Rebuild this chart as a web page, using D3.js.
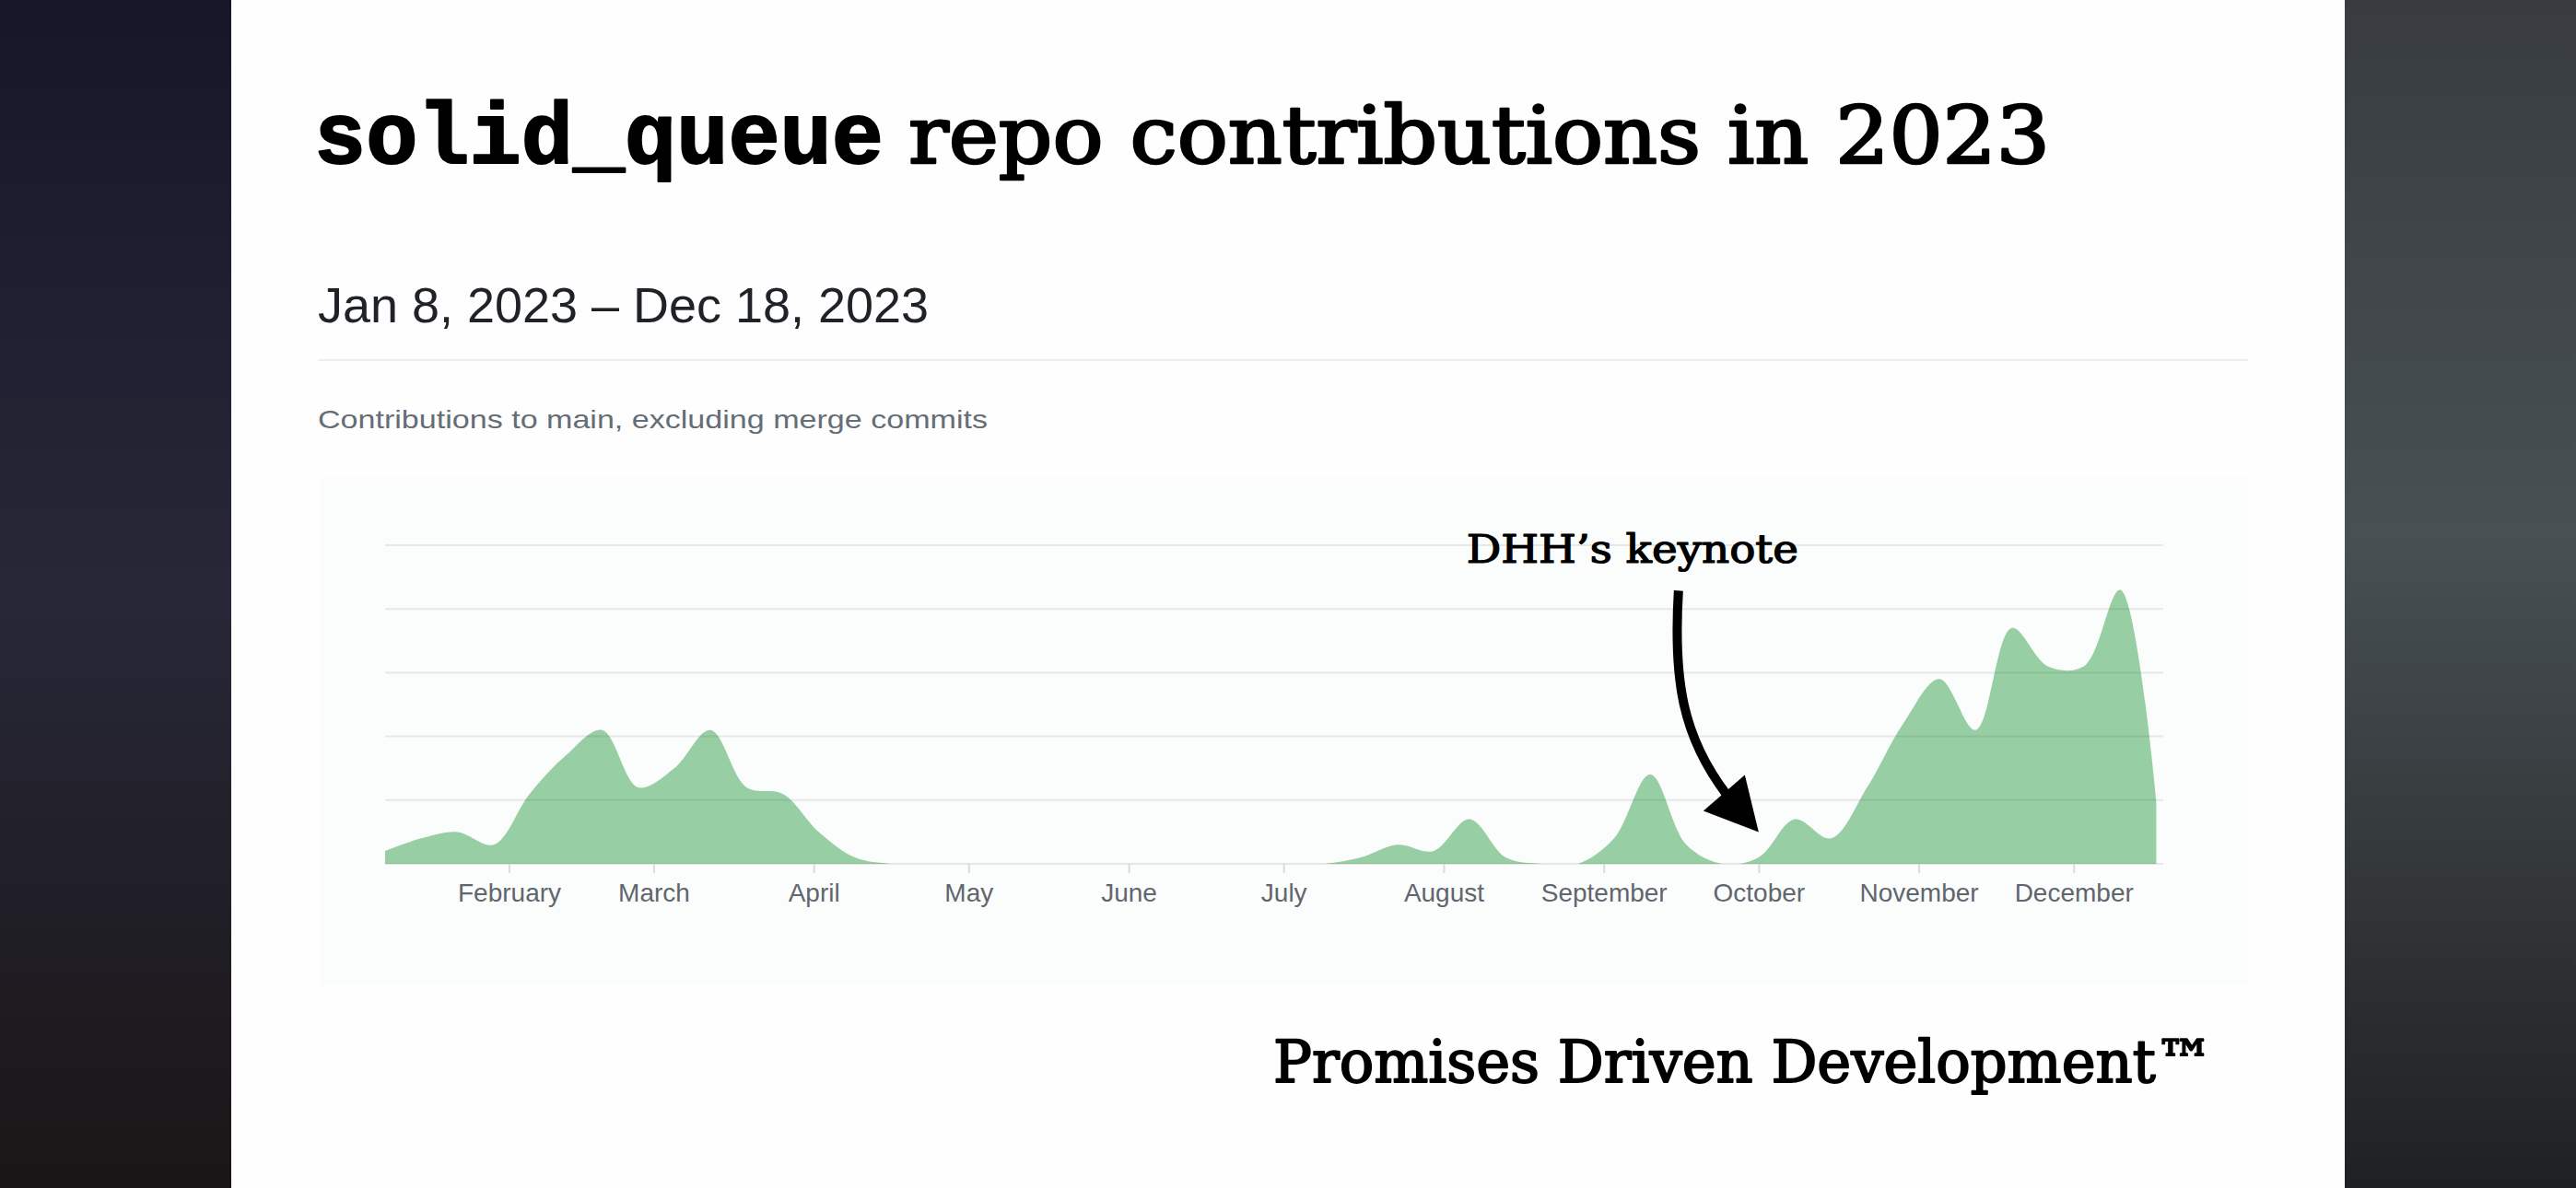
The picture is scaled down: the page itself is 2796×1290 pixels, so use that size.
<!doctype html>
<html>
<head>
  <meta charset="utf-8">
  <title>solid_queue contributions 2023</title>
  <script src="https://cdn.jsdelivr.net/npm/d3@7"></script>
  <style>
    body { margin: 0; background: #fff; }
    svg { display: block; }
    .slab { font-family: Rockwell, 'DejaVu Serif Condensed', 'DejaVu Serif', serif; font-weight: normal; fill: #000; stroke: #000; stroke-linejoin: round; }
    .mono { font-family: 'Courier New', 'Liberation Mono', monospace; font-weight: bold; fill: #000; stroke: #000; stroke-linejoin: round; }
    .sans { font-family: 'Liberation Sans', Arial, sans-serif; }
    .axis text { font-family: 'Liberation Sans', Arial, sans-serif; font-size: 28px; fill: #60666d; }
    .axis line { stroke: #d8dce0; stroke-width: 2; }
  </style>
</head>
<body>
<svg id="slide" width="2796" height="1290"></svg>
<script>
  // weekly commits to main, week starting on (Sunday)
  var weeks = [
    "2023-01-08","2023-01-15","2023-01-22","2023-01-29",
    "2023-02-05","2023-02-12","2023-02-19","2023-02-26",
    "2023-03-05","2023-03-12","2023-03-19","2023-03-26",
    "2023-04-02","2023-04-09","2023-04-16","2023-04-23","2023-04-30",
    "2023-05-07","2023-05-14","2023-05-21","2023-05-28",
    "2023-06-04","2023-06-11","2023-06-18","2023-06-25",
    "2023-07-02","2023-07-09","2023-07-16","2023-07-23","2023-07-30",
    "2023-08-06","2023-08-13","2023-08-20","2023-08-27",
    "2023-09-03","2023-09-10","2023-09-17","2023-09-24",
    "2023-10-01","2023-10-08","2023-10-15","2023-10-22","2023-10-29",
    "2023-11-05","2023-11-12","2023-11-19","2023-11-26",
    "2023-12-03","2023-12-10","2023-12-17"
  ];
  var commits = [
    2, 4, 5, 3, 11, 17, 21, 12, 15, 21, 12, 11, 5, 1,
    0, 0, 0, 0, 0, 0, 0, 0, 0, 0, 0, 0, 0,
    1, 3, 2, 7, 1, 0, 0, 4, 14, 3, 0, 1, 7, 4, 12, 22, 29, 21, 37, 31, 31, 43, 10
  ];
  var yTicks = [0, 10, 20, 30, 40, 50];
  var rangeStart = "2023-01-08", rangeEnd = "2023-12-18";

  var title = ["solid_queue", "repo contributions in 2023"];
  var dateRange = "Jan 8, 2023 \u2013 Dec 18, 2023";
  var caption = "Contributions to main, excluding merge commits";
  var note = { date: "2023-10-01", value: 5, text: "DHH\u2019s keynote" };
  var footer = "Promises Driven Development\u2122";

  var parse = d3.timeParse("%Y-%m-%d");
  var data = weeks.map(function(w, i) { return { date: parse(w), value: commits[i] }; });

  var svg = d3.select("#slide");
  var W = 2796, H = 1290;

  // dark side panels of the video frame
  var defs = svg.append("defs");
  var gl = defs.append("linearGradient").attr("id", "leftBg").attr("x1", 0).attr("y1", 0).attr("x2", 0).attr("y2", 1);
  gl.append("stop").attr("offset", "0%").attr("stop-color", "#151729");
  gl.append("stop").attr("offset", "50%").attr("stop-color", "#272737");
  gl.append("stop").attr("offset", "100%").attr("stop-color", "#1a1617");
  var gr = defs.append("linearGradient").attr("id", "rightBg").attr("x1", 0).attr("y1", 0).attr("x2", 0).attr("y2", 1);
  gr.append("stop").attr("offset", "0%").attr("stop-color", "#383c40");
  gr.append("stop").attr("offset", "45%").attr("stop-color", "#485053");
  gr.append("stop").attr("offset", "100%").attr("stop-color", "#1f2023");

  svg.append("rect").attr("x", 0).attr("y", 0).attr("width", 251).attr("height", H).attr("fill", "url(#leftBg)");
  svg.append("rect").attr("x", 2545).attr("y", 0).attr("width", W - 2545).attr("height", H).attr("fill", "url(#rightBg)");
  svg.append("rect").attr("x", 251).attr("y", 0).attr("width", 2545 - 251).attr("height", H).attr("fill", "#fefefe");

  // title
  svg.append("text").attr("class", "mono").attr("x", 341).attr("y", 177)
    .attr("font-size", 94).attr("stroke-width", 2)
    .attr("textLength", 618).attr("lengthAdjust", "spacingAndGlyphs")
    .text(title[0]);
  svg.append("text").attr("class", "slab").attr("x", 986).attr("y", 177)
    .attr("font-size", 86).attr("stroke-width", 2.4)
    .attr("textLength", 1239).attr("lengthAdjust", "spacingAndGlyphs")
    .text(title[1]);

  // GitHub header
  svg.append("text").attr("class", "sans").attr("x", 345).attr("y", 350)
    .attr("font-size", 53).attr("fill", "#1f2328")
    .attr("textLength", 663).attr("lengthAdjust", "spacingAndGlyphs")
    .text(dateRange);
  svg.append("line").attr("x1", 345).attr("x2", 2440).attr("y1", 391).attr("y2", 391)
    .attr("stroke", "#eceef0").attr("stroke-width", 2);
  svg.append("text").attr("class", "sans").attr("x", 345).attr("y", 465)
    .attr("font-size", 28).attr("fill", "#656d76")
    .attr("textLength", 727).attr("lengthAdjust", "spacingAndGlyphs")
    .text(caption);

  // chart card
  svg.append("rect").attr("x", 347).attr("y", 518).attr("width", 2440 - 347).attr("height", 1070 - 518)
    .attr("fill", "#fbfcfc");

  var x = d3.scaleTime().domain([parse(rangeStart), parse(rangeEnd)]).range([418, 2346]);
  var y = d3.scaleLinear().domain([0, 50]).range([938, 592]);

  // smooth curve through the weekly points, clipped so it never dips under zero
  defs.append("clipPath").attr("id", "plotClip").append("rect")
    .attr("x", x.range()[0]).attr("y", 0).attr("width", x.range()[1] - x.range()[0]).attr("height", y(0));

  var area = d3.area()
    .x(function(d) { return x(d.date); })
    .y0(y(0))
    .y1(function(d) { return y(d.value); })
    .curve(d3.curveCatmullRom.alpha(0.5));

  svg.append("path").datum(data).attr("d", area).attr("fill", "#98cea3").attr("clip-path", "url(#plotClip)");

  // grid on top, faint enough to show through the area
  svg.append("g").selectAll("line").data(yTicks).join("line")
    .attr("x1", 418).attr("x2", 2348)
    .attr("y1", function(d) { return y(d); }).attr("y2", function(d) { return y(d); })
    .attr("stroke", "#1b1f24").attr("stroke-opacity", 0.09).attr("stroke-width", 2);

  var xAxis = d3.axisBottom(x)
    .ticks(d3.timeMonth.every(1))
    .tickFormat(d3.timeFormat("%B"))
    .tickSize(10).tickPadding(11);
  var gx = svg.append("g").attr("class", "axis").attr("transform", "translate(0," + y(0) + ")").call(xAxis);
  gx.select(".domain").remove();
  gx.selectAll(".tick").filter(function(d) { return d.getMonth() === 0; }).remove();

  // annotation
  var tipX = x(parse(note.date)), tipY = y(note.value);
  svg.append("path")
    .attr("d", "M" + (tipX - 87) + "," + (tipY - 262) +
      " C" + (tipX - 93) + "," + (tipY - 163) + " " + (tipX - 82) + "," + (tipY - 103) + " " + (tipX - 35) + "," + (tipY - 41))
    .attr("fill", "none").attr("stroke", "#000").attr("stroke-width", 10);
  svg.append("path")
    .attr("d", "M" + tipX + "," + tipY + " L" + (tipX - 60) + "," + (tipY - 23) + " L" + (tipX - 15) + "," + (tipY - 62) + " Z")
    .attr("fill", "#000");
  svg.append("text").attr("class", "slab").attr("x", tipX - 317).attr("y", tipY - 292)
    .attr("font-size", 43).attr("stroke-width", 1.2)
    .attr("textLength", 360).attr("lengthAdjust", "spacingAndGlyphs")
    .text(note.text);

  // footer
  svg.append("text").attr("class", "slab").attr("x", 1382).attr("y", 1175)
    .attr("font-size", 64).attr("stroke-width", 1.8)
    .attr("textLength", 1020).attr("lengthAdjust", "spacingAndGlyphs")
    .text(footer);
</script>
</body>
</html>
